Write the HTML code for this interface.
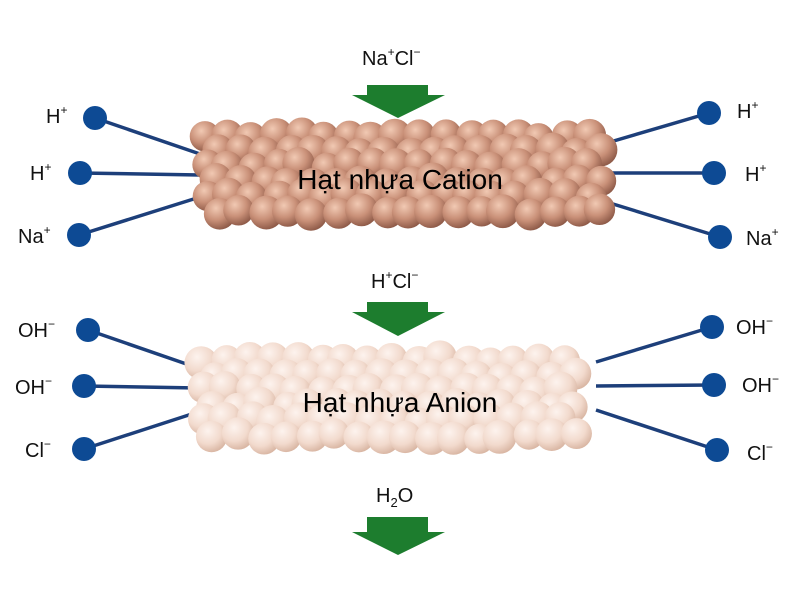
<!DOCTYPE html>
<html><head><meta charset="utf-8"><style>
html,body{margin:0;padding:0;background:#fff;width:800px;height:600px;overflow:hidden}
text{font-family:"Liberation Sans",sans-serif;fill:#111}
</style></head><body>
<svg id="s" width="800" height="600" viewBox="0 0 800 600" xmlns="http://www.w3.org/2000/svg">
<defs>
<radialGradient id="gc" cx="0.38" cy="0.32" r="0.7">
<stop offset="0" stop-color="#f1c9b3"/><stop offset="0.55" stop-color="#c99078"/><stop offset="1" stop-color="#8e5a48"/></radialGradient>
<radialGradient id="ga" cx="0.38" cy="0.32" r="0.7">
<stop offset="0" stop-color="#fdf3ee"/><stop offset="0.6" stop-color="#f2dacd"/><stop offset="1" stop-color="#d9b6a3"/></radialGradient>
</defs>
<g stroke="#1d3f7a" stroke-width="3.5">
<line x1="95" y1="118" x2="200" y2="154"/><line x1="80" y1="173" x2="200" y2="175"/><line x1="79" y1="235" x2="200" y2="197"/>
<line x1="709" y1="113" x2="600" y2="145"/><line x1="714" y1="173" x2="600" y2="173"/><line x1="720" y1="237" x2="600" y2="200"/>
<line x1="88" y1="330" x2="198" y2="368"/><line x1="84" y1="386" x2="198" y2="388"/><line x1="84" y1="449" x2="198" y2="412"/>
<line x1="712" y1="327" x2="596" y2="362"/><line x1="714" y1="385" x2="596" y2="386"/><line x1="717" y1="450" x2="596" y2="410"/>
</g>
<g id="beads"></g>
<g fill="#0d4a94">
<circle cx="95" cy="118" r="12"/><circle cx="80" cy="173" r="12"/><circle cx="79" cy="235" r="12"/>
<circle cx="709" cy="113" r="12"/><circle cx="714" cy="173" r="12"/><circle cx="720" cy="237" r="12"/>
<circle cx="88" cy="330" r="12"/><circle cx="84" cy="386" r="12"/><circle cx="84" cy="449" r="12"/>
<circle cx="712" cy="327" r="12"/><circle cx="714" cy="385" r="12"/><circle cx="717" cy="450" r="12"/>
</g>
<g fill="#1d7d2e">
<polygon points="367,85 428,85 428,95 445,95 398,118 352,95 367,95"/>
<polygon points="367,302 428,302 428,312 445,312 398,336 352,312 367,312"/>
<polygon points="367,517 428,517 428,532 445,532 398,555 352,532 367,532"/>
</g>
<g font-size="20">
<text x="362" y="65">Na<tspan font-size="12" dy="-9">+</tspan><tspan dy="9">Cl</tspan><tspan font-size="12" dy="-9">−</tspan></text>
<text x="371" y="288">H<tspan font-size="12" dy="-9">+</tspan><tspan dy="9">Cl</tspan><tspan font-size="12" dy="-9">−</tspan></text>
<text x="376" y="502">H<tspan font-size="13" dy="5">2</tspan><tspan dy="-5">O</tspan></text>
<text x="46" y="123">H<tspan font-size="12" dy="-9">+</tspan></text>
<text x="30" y="180">H<tspan font-size="12" dy="-9">+</tspan></text>
<text x="18" y="243">Na<tspan font-size="12" dy="-9">+</tspan></text>
<text x="737" y="118">H<tspan font-size="12" dy="-9">+</tspan></text>
<text x="745" y="181">H<tspan font-size="12" dy="-9">+</tspan></text>
<text x="746" y="245">Na<tspan font-size="12" dy="-9">+</tspan></text>
<text x="18" y="337">OH<tspan font-size="12" dy="-9">−</tspan></text>
<text x="15" y="394">OH<tspan font-size="12" dy="-9">−</tspan></text>
<text x="25" y="457">Cl<tspan font-size="12" dy="-9">−</tspan></text>
<text x="736" y="334">OH<tspan font-size="12" dy="-9">−</tspan></text>
<text x="742" y="392">OH<tspan font-size="12" dy="-9">−</tspan></text>
<text x="747" y="460">Cl<tspan font-size="12" dy="-9">−</tspan></text>
</g>
<text x="400" y="189" font-size="28" text-anchor="middle" style="fill:#000">Hạt nhựa Cation</text>
<text x="400" y="412" font-size="28" text-anchor="middle" style="fill:#000">Hạt nhựa Anion</text>
</svg>
<script>
var g=document.getElementById('beads'),ns='http://www.w3.org/2000/svg';
var seed=7;function rnd(){seed=(seed*9301+49297)%233280;return seed/233280;}
function cluster(x0,x1,cy,grad){
 var rows=[-38,-22,-8,8,22,38];
 for(var k=0;k<rows.length;k++){
  for(var x=x0;x<=x1;x+=24){
   var c=document.createElementNS(ns,'circle');
   c.setAttribute('cx',x+(k%2?12:0)+rnd()*6-3);
   c.setAttribute('cy',cy+rows[k]+rnd()*6-3);
   c.setAttribute('r',15+rnd()*2);
   c.setAttribute('fill','url(#'+grad+')');
   g.appendChild(c);
  }
 }
}
cluster(205,590,174,'gc');
cluster(202,585,398,'ga');
</script>
</body></html>
